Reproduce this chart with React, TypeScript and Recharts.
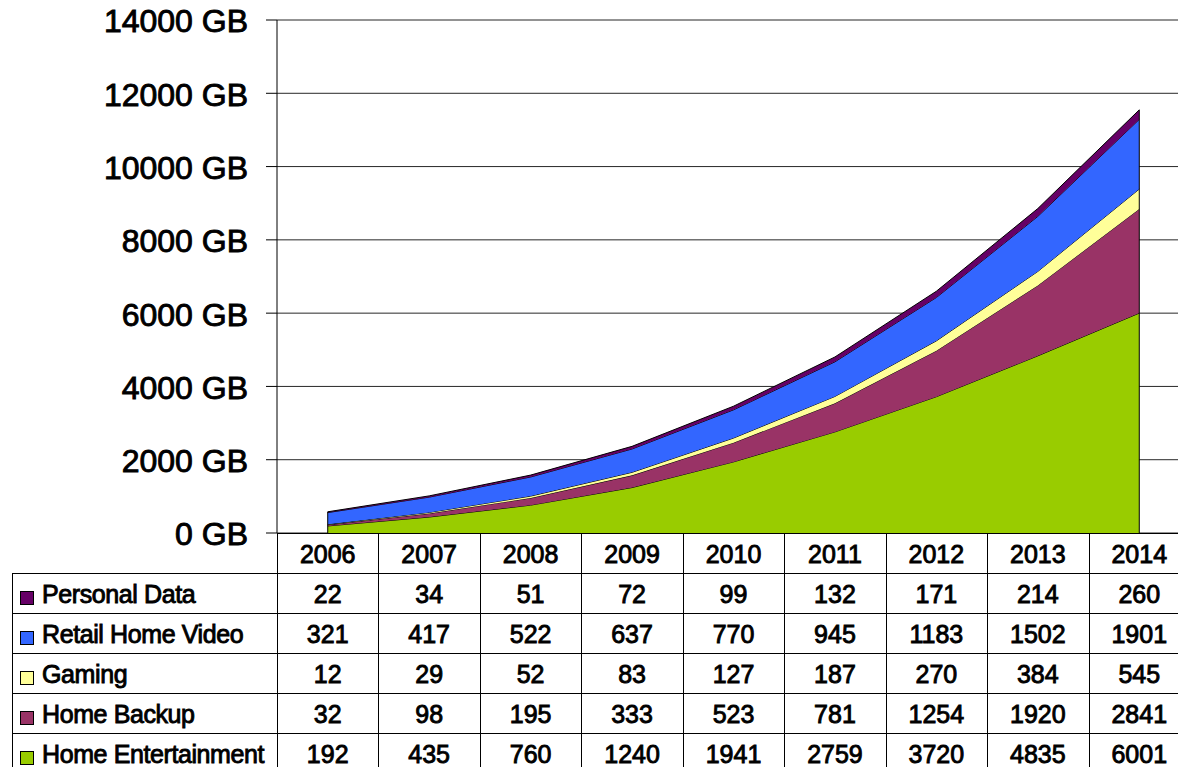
import React from 'react';
import { AreaChart, Area, XAxis, YAxis, CartesianGrid, ReferenceLine } from 'recharts';

const years = [2006, 2007, 2008, 2009, 2010, 2011, 2012, 2013, 2014];
const personalData = [22, 34, 51, 72, 99, 132, 171, 214, 260];
const retailHomeVideo = [321, 417, 522, 637, 770, 945, 1183, 1502, 1901];
const gaming = [12, 29, 52, 83, 127, 187, 270, 384, 545];
const homeBackup = [32, 98, 195, 333, 523, 781, 1254, 1920, 2841];
const homeEntertainment = [192, 435, 760, 1240, 1941, 2759, 3720, 4835, 6001];
const yTicks = [0, 2000, 4000, 6000, 8000, 10000, 12000, 14000];

const series = [
  { key: 'personal', name: 'Personal Data', values: personalData, color: '#660066' },
  { key: 'retail', name: 'Retail Home Video', values: retailHomeVideo, color: '#3366FF' },
  { key: 'gaming', name: 'Gaming', values: gaming, color: '#FFFF99' },
  { key: 'backup', name: 'Home Backup', values: homeBackup, color: '#993366' },
  { key: 'entertainment', name: 'Home Entertainment', values: homeEntertainment, color: '#99CC00' },
];

const data = years.map((y, i) => {
  const row: any = { year: y };
  series.forEach((s) => (row[s.key] = s.values[i]));
  return row;
});
const totals = years.map((_, i) => series.reduce((a, s) => a + s.values[i], 0));

const FONT = '"Liberation Sans", Arial, sans-serif';

// geometry
const PLOT_LEFT = 277;
const PLOT_RIGHT = 1190;
const PLOT_TOP = 20;
const PLOT_BOTTOM = 533;
const TABLE_LEFT = 12;
const ROW_H = 40;
const COL_W = (PLOT_RIGHT - PLOT_LEFT) / years.length;
const CHART_H = 580;

const DataTable = () => {
  const yearRowTop = PLOT_BOTTOM;
  const bodyTop = yearRowTop + ROW_H;
  const bodyBottom = bodyTop + ROW_H * series.length;
  const lines: React.ReactNode[] = [];
  for (let i = 0; i <= years.length; i++) {
    const x = Math.round(PLOT_LEFT + i * COL_W) + 0.5;
    lines.push(<line key={'v' + i} x1={x} x2={x} y1={yearRowTop} y2={bodyBottom} stroke="#000" strokeWidth={1} />);
  }
  lines.push(<line key="vl" x1={TABLE_LEFT + 0.5} x2={TABLE_LEFT + 0.5} y1={bodyTop} y2={bodyBottom} stroke="#000" strokeWidth={1} />);
  lines.push(<line key="h-top" x1={PLOT_LEFT} x2={PLOT_RIGHT} y1={yearRowTop + 0.5} y2={yearRowTop + 0.5} stroke="#000" strokeWidth={1} />);
  for (let r = 0; r <= series.length; r++) {
    const y = bodyTop + r * ROW_H + 0.5;
    lines.push(<line key={'h' + r} x1={TABLE_LEFT} x2={PLOT_RIGHT} y1={y} y2={y} stroke="#000" strokeWidth={1} />);
  }
  const textStyle = { fontFamily: FONT, fontSize: 25, fill: '#000', stroke: '#000', strokeWidth: 0.9 } as any;
  return (
    <svg width={1200} height={800} style={{ position: 'absolute', left: 0, top: 0 }}>
      {lines}
      {years.map((y, i) => (
        <text key={'y' + y} x={PLOT_LEFT + (i + 0.5) * COL_W} y={yearRowTop + 30} textAnchor="middle" style={textStyle}>
          {y}
        </text>
      ))}
      {series.map((s, r) => {
        const top = bodyTop + r * ROW_H;
        return (
          <g key={s.key}>
            <rect x={20.5} y={top + 18.5} width={13} height={13} fill={s.color} stroke="#000" strokeWidth={1} />
            <text x={42} y={top + 30} style={{ ...textStyle, letterSpacing: -0.4 }}>
              {s.name}
            </text>
            {s.values.map((v, i) => (
              <text key={i} x={PLOT_LEFT + (i + 0.5) * COL_W} y={top + 30} textAnchor="middle" style={textStyle}>
                {v}
              </text>
            ))}
          </g>
        );
      })}
    </svg>
  );
};

export default function App() {
  const stackOrder = [...series].reverse();
  return (
    <div style={{ position: 'absolute', left: 0, top: 0, width: 1178, height: 767, overflow: 'hidden', background: '#fff', fontFamily: FONT }}>
      <DataTable />
      <div style={{ position: 'absolute', left: 0, top: 0 }}>
        <AreaChart
          width={1200}
          height={CHART_H}
          data={data}
          margin={{ top: PLOT_TOP, right: 1200 - PLOT_RIGHT, left: 0, bottom: CHART_H - PLOT_BOTTOM }}
        >
          <CartesianGrid horizontal vertical={false} stroke="#000" strokeOpacity={0.85} />
          <XAxis dataKey="year" type="number" domain={[2005.5, 2014.5]} hide height={0} />
          <YAxis
            width={PLOT_LEFT}
            domain={[0, 14000]}
            ticks={yTicks}
            interval={0}
            tickFormatter={(v: number) => `${v} GB`}
            tickSize={11}
            tickMargin={18}
            tickLine={{ stroke: '#000' }}
            axisLine={{ stroke: '#000' }}
            tick={{ fontSize: 32, fill: '#000', fontFamily: FONT, stroke: '#000', strokeWidth: 0.9, dy: 1 }}
          />
          {stackOrder.map((s) => (
            <Area
              key={s.key}
              type="linear"
              dataKey={s.key}
              name={s.name}
              stackId="1"
              stroke="#000"
              strokeWidth={1}
              fill={s.color}
              fillOpacity={1}
              isAnimationActive={false}
              dot={false}
              activeDot={false}
            />
          ))}
          <ReferenceLine segment={[{ x: years[0], y: 0 }, { x: years[0], y: totals[0] }]} stroke="#000" strokeWidth={1} />
          <ReferenceLine
            segment={[{ x: years[years.length - 1], y: 0 }, { x: years[years.length - 1], y: totals[totals.length - 1] }]}
            stroke="#000"
            strokeWidth={1}
          />
        </AreaChart>
      </div>
    </div>
  );
}
